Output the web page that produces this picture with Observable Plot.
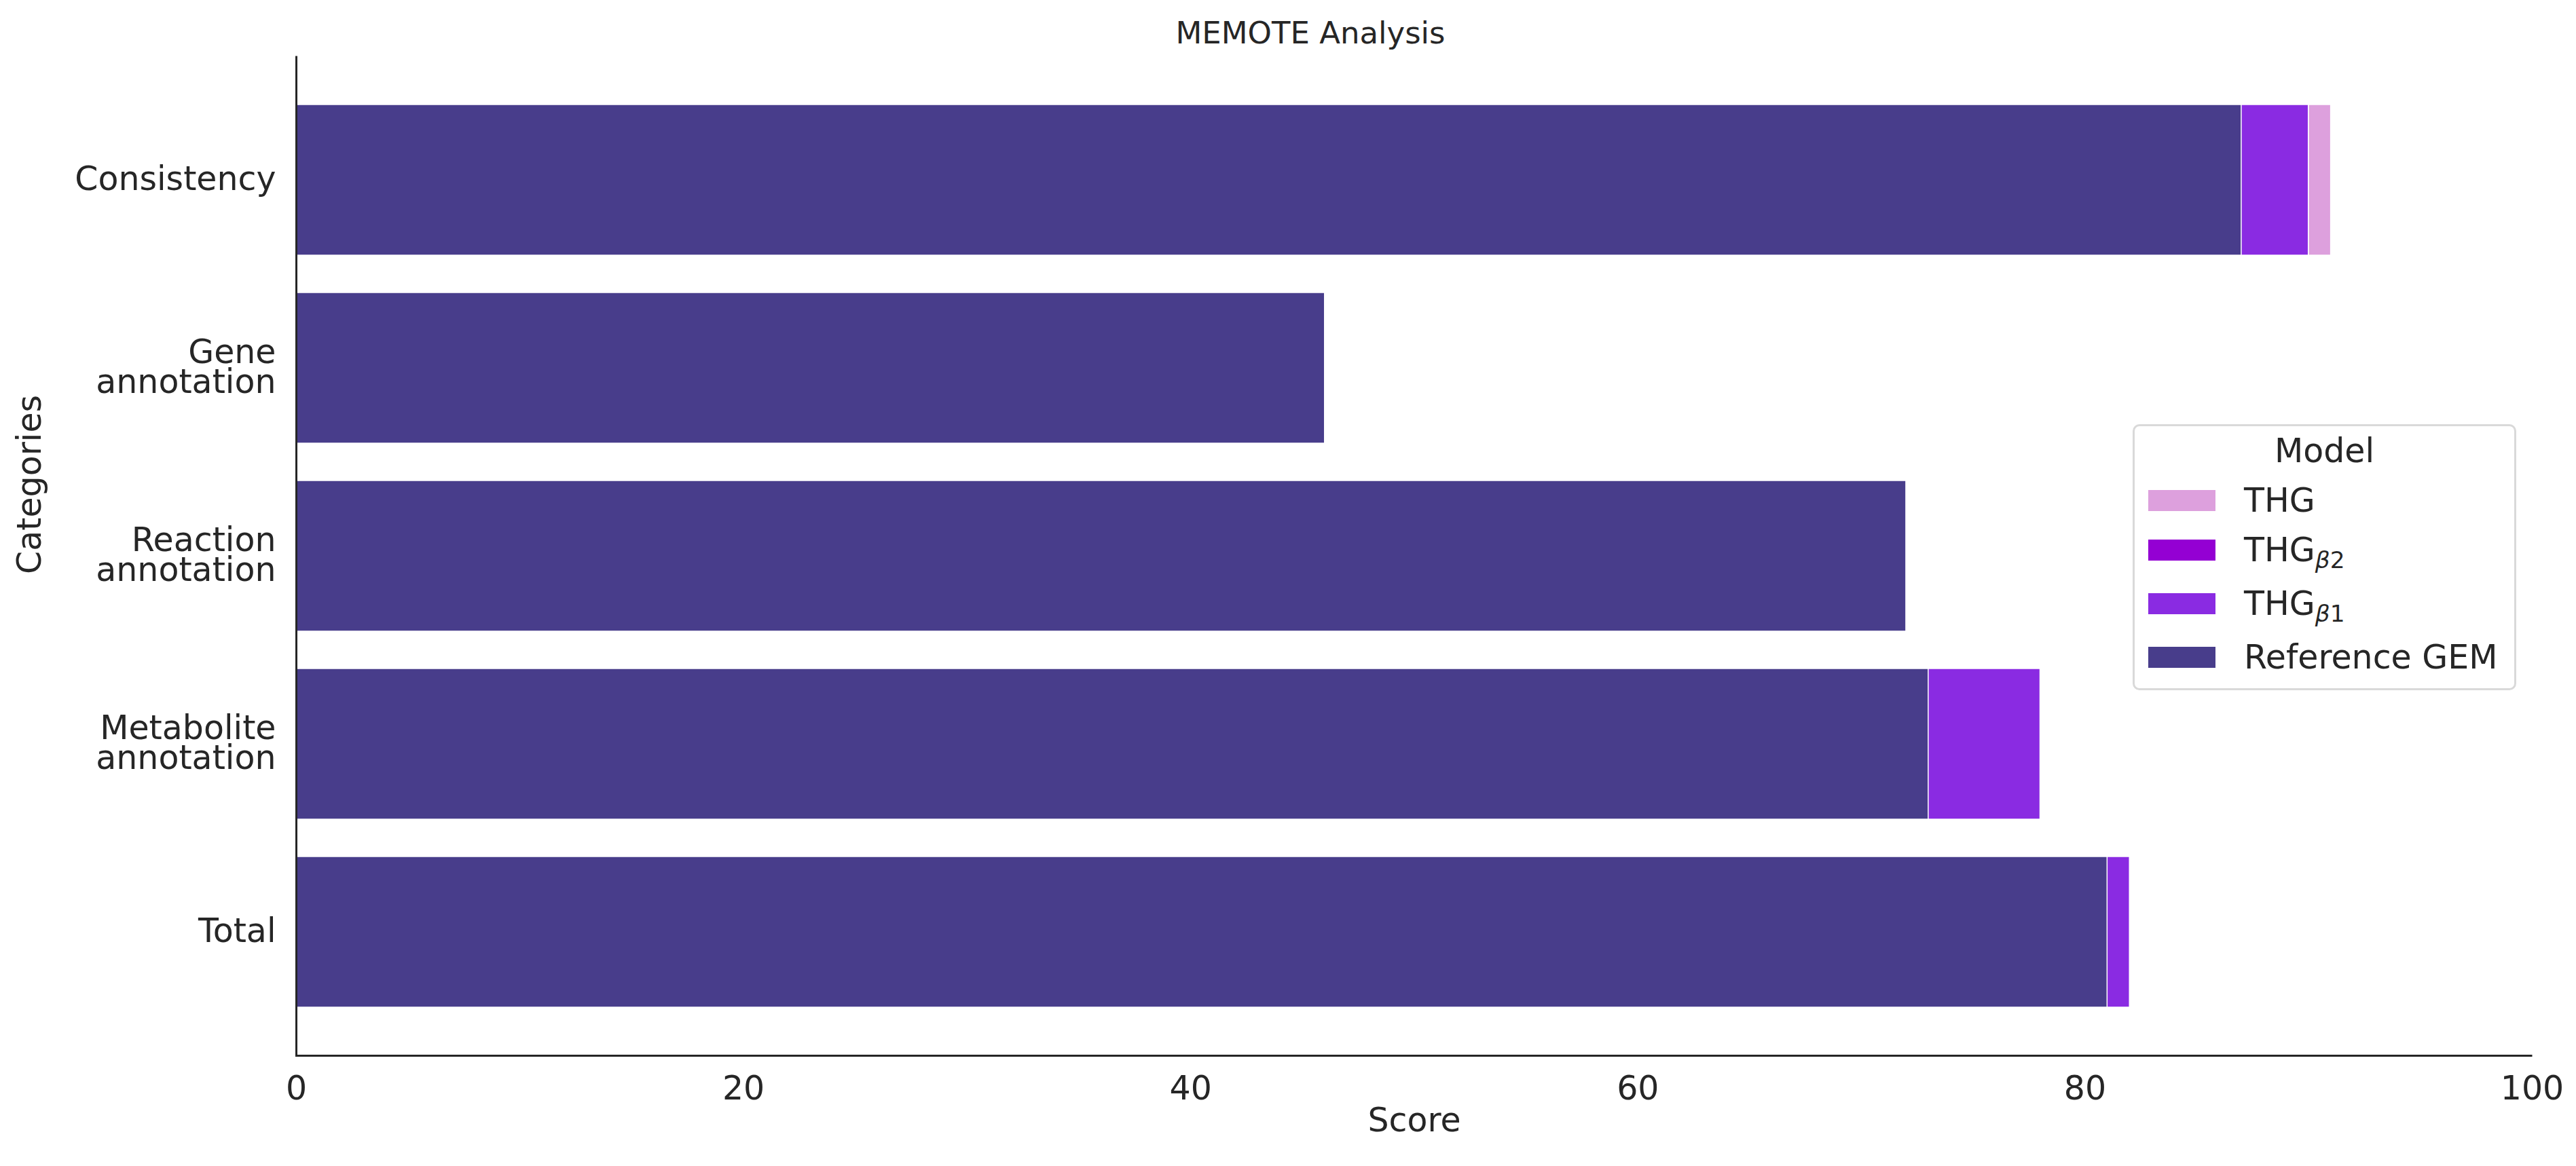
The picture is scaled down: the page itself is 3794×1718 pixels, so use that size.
<!DOCTYPE html>
<html>
<head>
<meta charset="utf-8">
<script src="https://cdn.jsdelivr.net/npm/d3@7"></script>
<script src="https://cdn.jsdelivr.net/npm/@observablehq/plot@0.6"></script>
<style>
  html, body { margin: 0; padding: 0; background: #fff; }
  #wrap { position: relative; width: 3794px; height: 1718px; font-family: "DejaVu Sans", sans-serif; color: #262626; }
  #title { position: relative; height: 72px; }
  #title span { position: absolute; left: 1930px; top: 48px; transform: translate(-50%, -50%); font-size: 45px; white-space: nowrap; }
  #legend { position: absolute; left: 3141px; top: 625px; width: 565px; height: 392px; box-sizing: border-box; border: 3px solid #d9d9d9; border-radius: 10px; background: #fff; }
  .lg-title { position: absolute; left: 0; width: 100%; text-align: center; font-size: 49px; line-height: 50px; }
  .lg-row { position: absolute; left: 0; width: 100%; height: 50px; }
  .lg-sw { position: absolute; left: 20px; width: 99px; height: 31px; top: 9px; }
  .lg-tx { position: absolute; left: 161px; font-size: 49px; line-height: 50px; top: 0; white-space: nowrap; }
  .lg-tx sub { font-size: 70%; vertical-align: -0.28em; line-height: 0; }
  .lg-tx sub i { font-style: italic; }
</style>
</head>
<body>
<div id="wrap">
  <div id="title"><span>MEMOTE Analysis</span></div>
  <div id="chart"></div>
  <div id="legend"></div>
</div>
<script>
// ---- Data ----
const categories = ["Consistency", "Gene\nannotation", "Reaction\nannotation", "Metabolite\nannotation", "Total"];
const models = ["THG", "THGβ2", "THGβ1", "Reference GEM"];
const modelColors = ["#DDA0DD", "#9400D3", "#8A2BE2", "#483D8B"];
const thgScores = [91, 46, 72, 78, 82];
const thgB2Scores = [90, 46, 72, 78, 82];
const thgB1Scores = [90, 46, 72, 78, 82];
const referenceScores = [87, 46, 72, 73, 81];
const xTicks = [0, 20, 40, 60, 80, 100];

const seriesByModel = [thgScores, thgB2Scores, thgB1Scores, referenceScores];
// overlapping (not stacked) bars, drawn in legend order: later models on top
const rows = models.flatMap((m, i) => seriesByModel[i].map((v, j) => ({category: categories[j], model: m, score: v})));

// ---- Layout ----
const W = 3794, H = 1718 - 72;
const mL = 436, mR = 65, mT = 10, mB = 163;
const fw = W - mL - mR, fh = H - mT - mB;

const chart = Plot.plot({
  width: W,
  height: H,
  marginLeft: mL,
  marginRight: mR,
  marginTop: mT,
  marginBottom: mB,
  style: {fontFamily: "DejaVu Sans, sans-serif", fontSize: "49px", color: "#262626", background: "#fff", overflow: "visible"},
  x: {domain: [0, 100], label: null},
  y: {domain: categories, paddingInner: 0.2, paddingOuter: 0.25, label: null},
  color: {domain: models, range: modelColors},
  marks: [
    Plot.barX(rows, {x1: 0, x2: "score", y: "category", fill: "model", stroke: "white", strokeWidth: 1.5}),
    Plot.axisX({ticks: xTicks, tickSize: 0, tickPadding: 30, label: null, fill: "#262626"}),
    Plot.axisY({tickSize: 0, tickPadding: 30, label: null, lineHeight: 0.9, fill: "#262626"}),
    Plot.text(["Score"], {frameAnchor: "bottom", dy: 111, fill: "#262626"}),
    Plot.text(["Categories"], {frameAnchor: "left", dx: -392, dy: 27, rotate: -90, fill: "#262626"}),
    Plot.frame({stroke: "#262626", strokeWidth: 3, strokeDasharray: `0 ${fw + fh} ${fw + fh}`})
  ]
});
document.getElementById("chart").appendChild(chart);

// ---- Legend ----
const legend = document.getElementById("legend");
const lt = document.createElement("div");
lt.className = "lg-title";
lt.textContent = "Model";
lt.style.top = (662 - 625 - 25) + "px";
legend.appendChild(lt);
const rowCenters = [738, 811, 890, 969];
const labelHtml = ["THG", "THG<sub><i>β</i>2</sub>", "THG<sub><i>β</i>1</sub>", "Reference GEM"];
models.forEach((m, i) => {
  const r = document.createElement("div");
  r.className = "lg-row";
  r.style.top = (rowCenters[i] - 625 - 3 - 25) + "px";
  const sw = document.createElement("div");
  sw.className = "lg-sw";
  sw.style.background = modelColors[i];
  const tx = document.createElement("div");
  tx.className = "lg-tx";
  tx.innerHTML = labelHtml[i];
  r.appendChild(sw);
  r.appendChild(tx);
  legend.appendChild(r);
});
</script>
</body>
</html>
